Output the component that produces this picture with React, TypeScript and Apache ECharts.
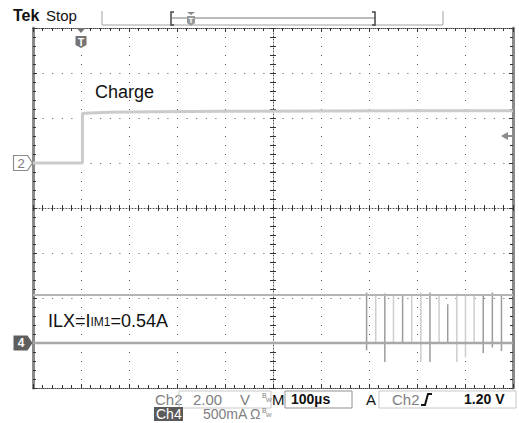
import React, { useEffect, useRef } from "react";
import * as echarts from "echarts";

// Timebase: 100 µs/div, trigger point 1 div from the left edge
const timeMin = -100;
const timeMax = 900;
const timePerDiv = 100;

// Graticule: 10 x 8 divisions
const divMin = -4;
const divMax = 4;

// Ch2: 2.00 V/div, ground 1 div above centre
const ch2Min = -10;
const ch2Max = 6;
const ch2Times = [-100, 3, 3, 20, 60, 150, 300, 500, 700, 900];
const ch2Volts = [0, 0, 2.2, 2.22, 2.26, 2.28, 2.3, 2.31, 2.32, 2.32];
const triggerLevel = 1.2;

// Ch4: 500 mA/div, ground 3 div below centre
const ch4Min = -0.5;
const ch4Max = 3.5;
const ch4Times = [-100, 900];
const ch4Amps = [0, 0];
const ilimLevel = 0.54;

// Switching current pulses on Ch4
const spikeTimes = [595, 614, 633, 651, 670, 689, 708, 727, 746, 764, 783, 801, 819, 838, 857, 876];
const spikePeaks = [0.56, 0.54, 0.55, 0.54, 0.54, 0.54, 0.56, 0.56, 0.54, 0.43, 0.55, 0.54, 0.54, 0.54, 0.56, 0.54];
const spikeDips = [-0.08, 0, -0.21, 0, 0, 0, -0.21, -0.21, 0, 0, -0.21, -0.16, 0, -0.11, -0.05, -0.09];
const spikeShade = ["dark", "light", "dark", "light", "dark", "light", "light", "dark", "light", "dark", "light", "light", "light", "dark", "dark", "dark"];

const FONT = "'Liberation Sans', Arial, sans-serif";

function pairs(xs: number[], ys: number[]) {
  return xs.map((x, i) => [x, ys[i]]);
}

function spikeData(shade: string) {
  const out: (number | null)[][] = [];
  spikeTimes.forEach((t, i) => {
    if (spikeShade[i] !== shade) return;
    out.push([t, 0], [t, spikePeaks[i]], [t, spikeDips[i]], [t, 0], [t, null]);
  });
  return out;
}

const tickStyle = { color: "#333", width: 1 };

function gratX(position: string, offset: number, line: any, tickLen: number, split: boolean) {
  return {
    type: "value",
    min: timeMin,
    max: timeMax,
    interval: timePerDiv,
    position,
    offset,
    axisLine: line ? { show: true, onZero: false, lineStyle: line } : { show: false, onZero: false },
    axisTick: { show: true, inside: true, length: tickLen, lineStyle: tickStyle },
    minorTick: { show: true, splitNumber: 5, length: 3, lineStyle: tickStyle },
    axisLabel: { show: false },
    splitLine: split
      ? { show: true, lineStyle: { color: "#555", width: 1, type: [1, 8] } }
      : { show: false },
  };
}

function gratY(position: string, offset: number, line: any, tickLen: number, split: boolean) {
  return {
    type: "value",
    min: divMin,
    max: divMax,
    interval: 1,
    position,
    offset,
    axisLine: line ? { show: true, onZero: false, lineStyle: line } : { show: false, onZero: false },
    axisTick: { show: true, inside: true, length: tickLen, lineStyle: tickStyle },
    minorTick: { show: true, splitNumber: 5, length: 3, lineStyle: tickStyle },
    axisLabel: { show: false },
    splitLine: split
      ? { show: true, lineStyle: { color: "#555", width: 1, type: [1, 8.6] } }
      : { show: false },
  };
}

const edgeDots = { color: "#444", width: 1, type: [1, 1] };
const centreDots = { color: "#555", width: 1, type: [1, 2] };
const sideBar = { color: "#8a8a8a", width: 3 };

const groundSymbol = "path://M0,0 L14,0 L19,7.5 L14,15 L0,15 Z";
const arrowSymbol = "path://M0,4 L7,0 L7,3 L12,3 L12,5 L7,5 L7,8 Z";
const triggerSymbol = "path://M1,0 L10,0 L5.5,5 Z M0,8 L11,8 L11,17 L5.5,20 L0,17 Z";

function txt(x: number, y: number, text: string, size: number, color: string, extra: any = {}) {
  return {
    type: "text",
    x,
    y,
    silent: true,
    style: {
      text,
      fill: color,
      font: `${extra.weight || "normal"} ${size}px ${extra.family || FONT}`,
      verticalAlign: "middle",
      align: extra.align || "left",
    },
  };
}

const option: any = {
  animation: false,
  backgroundColor: "#ffffff",
  grid: { left: 33, right: 6, top: 28, bottom: 35, containLabel: false },
  xAxis: [
    gratX("bottom", 0, edgeDots, 4, true),
    gratX("top", 0, edgeDots, 4, false),
    gratX("bottom", -180, centreDots, 3, false),
    gratX("top", -180, null, 3, false),
  ],
  yAxis: [
    gratY("left", 0, sideBar, 4, true),
    gratY("right", 0, sideBar, 4, false),
    gratY("left", -240, centreDots, 3, false),
    gratY("right", -240, null, 3, false),
    { type: "value", min: ch2Min, max: ch2Max, show: false, splitLine: { show: false } },
    { type: "value", min: ch4Min, max: ch4Max, show: false, splitLine: { show: false } },
  ],
  series: [
    {
      name: "Ch2",
      type: "line",
      xAxisIndex: 0,
      yAxisIndex: 4,
      data: pairs(ch2Times, ch2Volts),
      symbol: "none",
      silent: true,
      lineStyle: { color: "#cbcbcb", width: 3 },
      markPoint: {
        silent: true,
        animation: false,
        data: [
          {
            coord: [timeMin, 0],
            symbol: groundSymbol,
            symbolSize: [19, 15],
            symbolOffset: [-10, 0],
            itemStyle: { color: "#ffffff", borderColor: "#8a8a8a", borderWidth: 1 },
            label: { show: true, formatter: "2", color: "#7a7a7a", fontSize: 13, fontFamily: FONT, offset: [-2, 0] },
          },
          {
            coord: [timeMax, triggerLevel],
            symbol: arrowSymbol,
            symbolSize: [12, 8],
            symbolOffset: [-6, 0],
            itemStyle: { color: "#8c8c8c" },
            label: { show: false },
          },
          {
            coord: [0, ch2Max],
            symbol: triggerSymbol,
            symbolSize: [11, 20],
            symbolOffset: [0, 10],
            itemStyle: { color: "#747474" },
            label: { show: true, formatter: "T", color: "#ffffff", fontSize: 10, fontWeight: "bold", fontFamily: FONT, offset: [0, 4] },
          },
        ],
      },
    },
    {
      name: "Ch4 pulses light",
      type: "line",
      xAxisIndex: 0,
      yAxisIndex: 5,
      data: spikeData("light"),
      symbol: "none",
      silent: true,
      connectNulls: false,
      lineStyle: { color: "#cdcdcd", width: 1.5 },
    },
    {
      name: "Ch4 pulses dark",
      type: "line",
      xAxisIndex: 0,
      yAxisIndex: 5,
      data: spikeData("dark"),
      symbol: "none",
      silent: true,
      connectNulls: false,
      lineStyle: { color: "#9c9c9c", width: 1.5 },
    },
    {
      name: "Ch4",
      type: "line",
      xAxisIndex: 0,
      yAxisIndex: 5,
      data: pairs(ch4Times, ch4Amps),
      symbol: "none",
      silent: true,
      lineStyle: { color: "#a8a8a8", width: 2.5 },
      markLine: {
        silent: true,
        animation: false,
        symbol: "none",
        label: { show: false },
        lineStyle: { color: "#b4b4b4", width: 2, type: "solid" },
        data: [{ yAxis: ilimLevel }],
      },
      markPoint: {
        silent: true,
        animation: false,
        data: [
          {
            coord: [timeMin, 0],
            symbol: groundSymbol,
            symbolSize: [19, 15],
            symbolOffset: [-10, 0],
            itemStyle: { color: "#5e5e5e" },
            label: { show: true, formatter: "4", color: "#ffffff", fontSize: 12, fontWeight: "bold", fontFamily: FONT, offset: [-2, 0] },
          },
        ],
      },
    },
  ],
  graphic: [
    // header
    txt(13, 15, "Tek", 16, "#111", { weight: "bold" }),
    txt(46, 15, "Stop", 15, "#111"),
    { type: "line", silent: true, shape: { x1: 102, y1: 11, x2: 102, y2: 25 }, style: { stroke: "#a0a0a0", lineWidth: 1 } },
    { type: "line", silent: true, shape: { x1: 102, y1: 25, x2: 443, y2: 25 }, style: { stroke: "#a0a0a0", lineWidth: 1 } },
    { type: "line", silent: true, shape: { x1: 443, y1: 11, x2: 443, y2: 25 }, style: { stroke: "#a0a0a0", lineWidth: 1 } },
    { type: "polyline", silent: true, shape: { points: [[174, 12], [171, 12], [171, 25], [174, 25]] }, style: { stroke: "#444", lineWidth: 1.5, fill: "none" } },
    { type: "line", silent: true, shape: { x1: 171, y1: 18, x2: 375, y2: 18 }, style: { stroke: "#777", lineWidth: 1 } },
    { type: "polyline", silent: true, shape: { points: [[372, 12], [375, 12], [375, 25], [372, 25]] }, style: { stroke: "#444", lineWidth: 1.5, fill: "none" } },
    { type: "polygon", silent: true, shape: { points: [[187, 12], [195, 12], [191, 15]] }, style: { fill: "#888" } },
    { type: "polygon", silent: true, shape: { points: [[187, 16], [195, 16], [195, 23], [191, 26], [187, 23]] }, style: { fill: "#999" } },
    txt(191, 20, "T", 8, "#fff", { weight: "bold", align: "center" }),

    // annotations
    txt(95, 92, "Charge", 18, "#111"),
    {
      type: "text",
      x: 48,
      y: 320,
      silent: true,
      style: {
        text: "{a|ILX=I}{b|IM1}{a|=0.54A}",
        verticalAlign: "middle",
        rich: {
          a: { fontSize: 18, fontFamily: FONT, fill: "#111", lineHeight: 20, verticalAlign: "bottom" },
          b: { fontSize: 12, fontFamily: FONT, fill: "#111", lineHeight: 20, verticalAlign: "bottom", padding: [0, 0, 2, 0] },
        },
      },
    },

    // readout row 1
    txt(155, 399, "Ch2", 15, "#808080"),
    { type: "rect", silent: true, shape: { x: 179, y: 391, width: 92, height: 17 }, style: { fill: "none", stroke: "#c8c8c8", lineWidth: 1 } },
    txt(193, 399, "2.00", 15, "#808080"),
    txt(240, 399, "V", 15, "#808080"),
    txt(262, 395, "B", 7, "#808080"),
    txt(266, 400, "W", 6, "#808080"),
    txt(272, 399, "M", 15, "#111"),
    { type: "rect", silent: true, shape: { x: 285, y: 391, width: 67, height: 17 }, style: { fill: "none", stroke: "#909090", lineWidth: 1 } },
    txt(291, 399, "100µs", 14, "#111", { weight: "bold" }),
    txt(366, 399, "A", 15, "#111"),
    { type: "rect", silent: true, shape: { x: 379, y: 391, width: 137, height: 17 }, style: { fill: "none", stroke: "#c8c8c8", lineWidth: 1 } },
    txt(392, 399, "Ch2", 15, "#808080"),
    { type: "polyline", silent: true, shape: { points: [[421, 405], [425, 405], [428, 394], [432, 394]] }, style: { stroke: "#111", lineWidth: 2, fill: "none" } },
    txt(464, 399, "1.20 V", 14, "#111", { weight: "bold" }),

    // readout row 2
    { type: "rect", silent: true, shape: { x: 154, y: 407, width: 29, height: 14 }, style: { fill: "#5a5a5a" } },
    txt(156, 414, "Ch4", 14, "#ffffff"),
    txt(203, 414, "500mA", 14, "#808080"),
    txt(250, 414, "Ω", 14, "#808080"),
    txt(262, 410, "B", 7, "#808080"),
    txt(266, 415, "W", 6, "#808080"),
  ],
};

export default function App() {
  const ref = useRef<HTMLDivElement>(null);
  useEffect(() => {
    const chart = echarts.init(ref.current!, null, { renderer: "svg" });
    chart.setOption(option);
    return () => chart.dispose();
  }, []);
  return (
    <div
      ref={ref}
      style={{ position: "absolute", left: 0, top: 0, width: 519, height: 423, background: "#fff" }}
    />
  );
}
